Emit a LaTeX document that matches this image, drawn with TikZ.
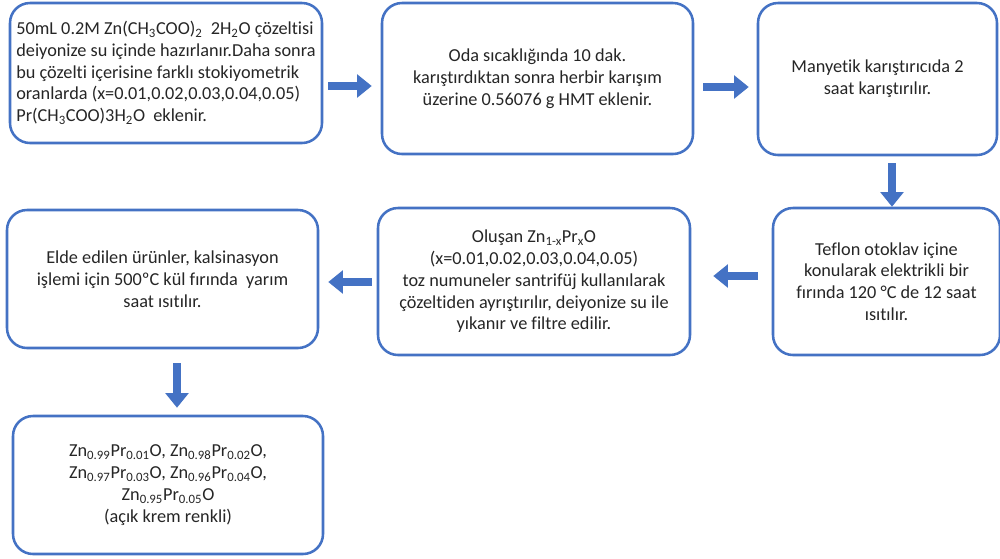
\documentclass[tikz,border=0pt]{standalone}
\usepackage{fontspec}
\setmainfont{Carlito}[Ligatures=NoCommon]
\usetikzlibrary{arrows.meta,calc}
\definecolor{bblue}{HTML}{4472C4}
\definecolor{txt}{HTML}{262626}
\newcommand\sbs[1]{\textsubscript{#1}}
\begin{document}
\begin{tikzpicture}[x=0.75pt,y=-0.75pt,
  box/.style={draw=bblue,line width=1.9pt,rounded corners=15pt,fill=white,
    text=txt,align=center,inner sep=0pt,
    font=\fontsize{13.7}{16.3}\selectfont},
  blk/.style={draw=bblue,line width=6pt,-{Triangle[width=17pt,length=11pt]}}]
\useasboundingbox (0,0) rectangle (1000,558);
\fill[white] (0,0) rectangle (1000,558);

\node[box,minimum width=312*0.75pt,minimum height=140*0.75pt,align=left] (b1) at (166,73)
  {50mL 0.2M Zn(CH\sbs{3}COO)\sbs{2}\ \ 2H\sbs{2}O çözeltisi\\
   deiyonize su içinde hazırlanır.Daha sonra\\
   bu çözelti içerisine farklı stokiyometrik\\
   oranlarda (x=0.01,0.02,0.03,0.04,0.05)\\
   Pr(CH\sbs{3}COO)3H\sbs{2}O\ \ eklenir.};

\node[box,minimum width=311*0.75pt,minimum height=151*0.75pt] (b2) at (537.5,78.5)
  {Oda sıcaklığında 10 dak.\\
   karıştırdıktan sonra herbir karışım\\
   üzerine 0.56076 g HMT eklenir.};

\node[box,minimum width=239*0.75pt,minimum height=152*0.75pt] (b3) at (877.5,79)
  {Manyetik karıştırıcıda 2\\ saat karıştırılır.};

\node[box,minimum width=227*0.75pt,minimum height=147*0.75pt] (b4) at (886.5,281.5)
  {Teflon otoklav içine\\ konularak elektrikli bir\\ fırında 120 °C de 12 saat\\ ısıtılır.};

\node[box,minimum width=312*0.75pt,minimum height=147*0.75pt] (b5) at (534,281.5)
  {Oluşan Zn\sbs{1-x}Pr\sbs{x}O\\
   (x=0.01,0.02,0.03,0.04,0.05)\\
   toz numuneler santrifüj kullanılarak\\
   çözeltiden ayrıştırılır, deiyonize su ile\\
   yıkanır ve filtre edilir.};

\node[box,minimum width=311*0.75pt,minimum height=138*0.75pt] (b6) at (162.5,279)
  {Elde edilen ürünler, kalsinasyon\\
   işlemi için 500ºC kül fırında\ \ yarım\\
   saat ısıtılır.};

\node[box,minimum width=310*0.75pt,minimum height=138*0.75pt] (b7) at (168,485)
  {Zn\sbs{0.99}Pr\sbs{0.01}O, Zn\sbs{0.98}Pr\sbs{0.02}O,\\
   Zn\sbs{0.97}Pr\sbs{0.03}O, Zn\sbs{0.96}Pr\sbs{0.04}O,\\
   Zn\sbs{0.95}Pr\sbs{0.05}O\\
   (açık krem renkli)};

\draw[blk] ($(b1.east)+(5,13)$) -- ($(b2.west)+(-9,7.5)$);
\draw[blk] ($(b2.east)+(9,8.5)$) -- ($(b3.west)+(-8,8)$);
\draw[blk] ($(b3.south)+(14.5,7)$) -- ($(b4.north)+(5.5,0)$);
\draw[blk] ($(b4.west)+(-14,-5.5)$) -- ($(b5.east)+(22,-5.5)$);
\draw[blk] ($(b5.west)+(-5,0.5)$) -- ($(b6.east)+(9,3)$);
\draw[blk] ($(b6.south)+(14.5,14)$) -- ($(b7.north)+(9,-7)$);
\end{tikzpicture}
\end{document}
